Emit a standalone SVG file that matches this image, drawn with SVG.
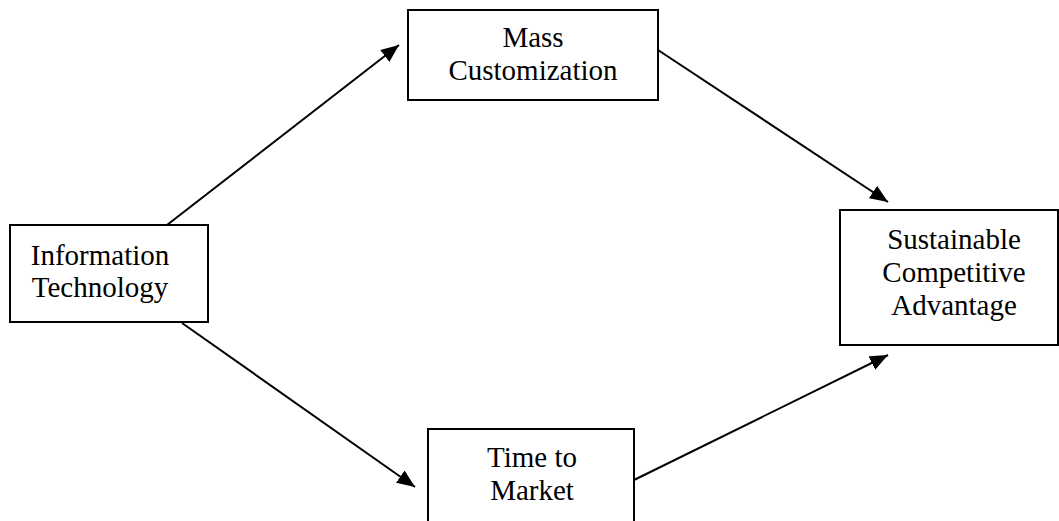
<svg xmlns="http://www.w3.org/2000/svg" width="1059" height="521" viewBox="0 0 1059 521">
<style>
.box{fill:#fff;stroke:#000;stroke-width:2}
.t{font-family:"Liberation Serif","Times New Roman",serif;font-size:29px;fill:#000;text-anchor:middle}
.c{stroke:#000;stroke-width:2;fill:none;marker-end:url(#ah)}
</style>
<defs>
<marker id="ah" markerUnits="userSpaceOnUse" markerWidth="19" markerHeight="16" refX="18" refY="7.5" orient="auto">
<path d="M0,0 L18,7.5 L0,15 z" fill="#000"/>
</marker>
</defs>
<rect width="1059" height="521" fill="#fff"/>
<g id="connectors">
<line class="c" x1="167" y1="225" x2="399" y2="45"/>
<line class="c" x1="182" y1="323" x2="415" y2="487"/>
<line class="c" x1="658" y1="50" x2="888" y2="202"/>
<line class="c" x1="634" y1="480" x2="888" y2="355"/>
</g>
<g id="mass">
<rect class="box" x="408" y="10" width="250" height="90"/>
<text class="t" x="533" y="47">Mass</text>
<text class="t" x="533" y="80">Customization</text>
</g>
<g id="it">
<rect class="box" x="10" y="225" width="198" height="97"/>
<text class="t" x="100" y="265">Information</text>
<text class="t" x="100" y="297">Technology</text>
</g>
<g id="sca">
<rect class="box" x="840" y="210" width="218" height="135"/>
<text class="t" x="954" y="249">Sustainable</text>
<text class="t" x="954" y="282">Competitive</text>
<text class="t" x="954" y="315">Advantage</text>
</g>
<g id="ttm">
<rect class="box" x="428" y="429" width="206" height="100"/>
<text class="t" x="532" y="467">Time to</text>
<text class="t" x="532" y="500">Market</text>
</g>
</svg>
